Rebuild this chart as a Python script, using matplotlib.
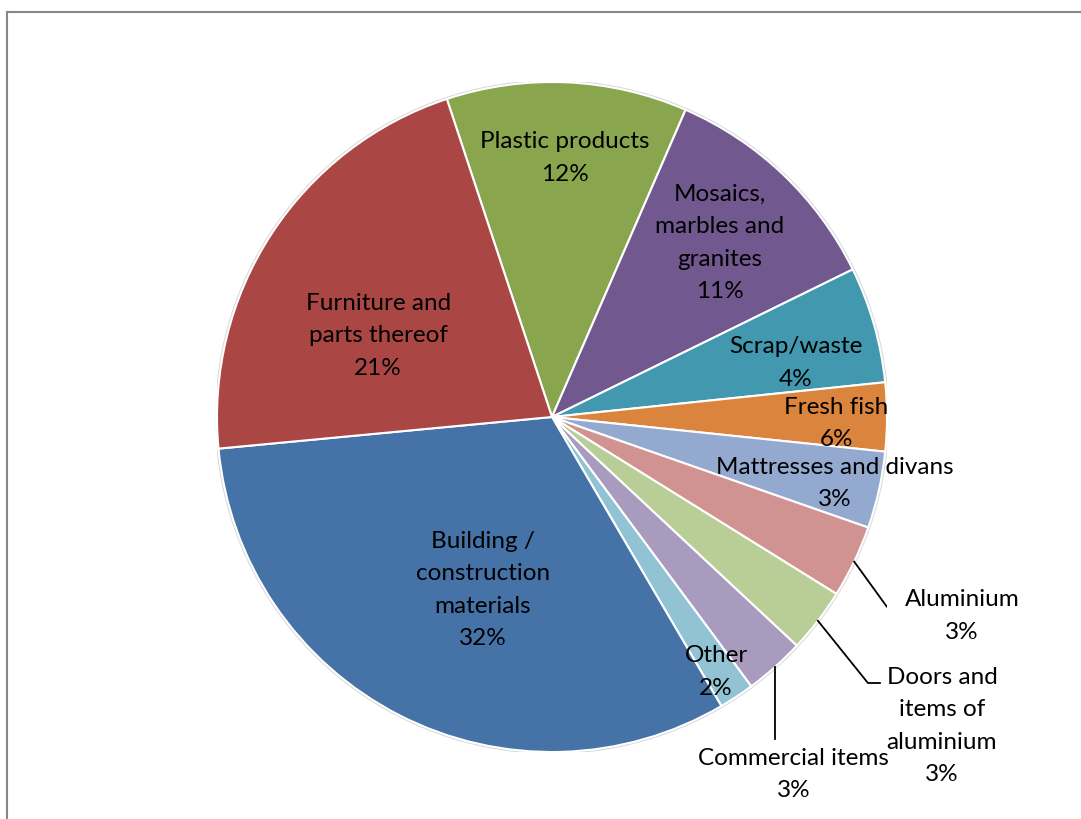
import numpy as np
import matplotlib.pyplot as plt
from matplotlib.lines import Line2D

# slice data, clockwise from the top-left edge of "Plastic products"
categories = ['Plastic products', 'Mosaics,\nmarbles and\ngranites', 'Scrap/waste',
              'Fresh fish', 'Mattresses and divans', 'Aluminium',
              'Doors and\nitems of\naluminium', 'Commercial items', 'Other',
              'Building /\nconstruction\nmaterials', 'Furniture and\nparts thereof']
shares = [11.6, 11.2, 5.6, 3.3, 3.7, 3.5, 3.1, 2.9, 1.7, 31.9, 21.4]
pct_labels = ['12%', '11%', '4%', '6%', '3%', '3%', '3%', '3%', '2%', '32%', '21%']

colors = ['#89A54E', '#71588F', '#4198AF', '#DB843D', '#93A9CF', '#D19392',
          '#B9CD96', '#A99BBD', '#91C3D5', '#4572A7', '#AA4643']

# label anchor positions (data units, pie radius = 1)
label_pos = [(0.039, 0.776), (0.501, 0.522), (0.728, 0.164), (0.848, -0.016),
             (0.845, -0.196), (1.224, -0.591), (1.164, -0.919), (0.722, -1.064),
             (0.490, -0.758), (-0.206, -0.513), (-0.519, 0.245)]

W, H = 1081, 820
cx, cy, R = 552, 418, 335

fig = plt.figure(figsize=(W / 100, H / 100), dpi=100)
ax = fig.add_axes([(cx - R) / W, (H - cy - R) / H, 2 * R / W, 2 * R / H])

# faint shadow ring like the office chart
ax.add_patch(plt.Circle((0, 0), 1.004, color='#d9d9d9', zorder=0))

wedges, _ = ax.pie(shares, colors=colors, startangle=108.3, counterclock=False,
                   radius=1.0, wedgeprops=dict(edgecolor='white', linewidth=1.5))

font = dict(family='Lato', fontsize=17.5, color='black', ha='center', va='center',
            linespacing=1.68)
for cat, pct, (x, y) in zip(categories, pct_labels, label_pos):
    ax.text(x, y, cat + '\n' + pct, **font)

# leader lines for the outside labels
def mid_point(w, r=1.0):
    a = np.deg2rad((w.theta1 + w.theta2) / 2)
    return r * np.cos(a), r * np.sin(a)

x0, y0 = mid_point(wedges[5])
ax.plot([x0, 1.000, 1.033], [y0, -0.567, -0.567], color='black', lw=1.3)
x0, y0 = mid_point(wedges[6])
ax.plot([x0, 0.943, 0.979], [y0, -0.794, -0.794], color='black', lw=1.3)
x0, y0 = mid_point(wedges[7])
ax.plot([x0, x0], [y0, -0.961], color='black', lw=1.3)

ax.set_xlim(-1, 1)
ax.set_ylim(-1, 1)
ax.set_aspect('equal')
ax.axis('off')

# chart frame (only left and top edges visible)
fig.add_artist(Line2D([7 / W, 7 / W], [0, 1 - 13 / H], color='#878787', lw=1.5))
fig.add_artist(Line2D([7 / W, 1], [1 - 13 / H, 1 - 13 / H], color='#878787', lw=1.5))

fig.savefig('out.png', dpi=100)
